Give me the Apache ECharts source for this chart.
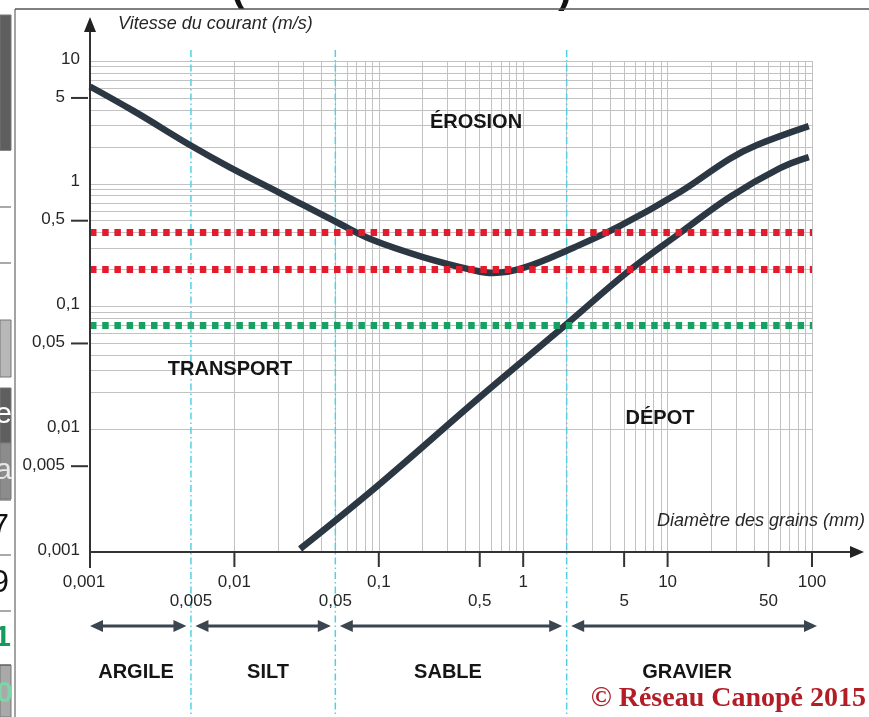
<!DOCTYPE html>
<html>
<head>
<meta charset="utf-8">
<script src="https://cdn.jsdelivr.net/npm/echarts@6/dist/echarts.min.js"></script>
<style>
html,body{margin:0;padding:0;background:#fff;}
#c{width:869px;height:717px;}
</style>
</head>
<body>
<div id="c"></div>
<script>
// ---------- data ----------
const erosionD = [0.001, 0.002, 0.0052, 0.0093, 0.0207, 0.054, 0.091, 0.202, 0.449, 0.618, 1.0, 2.21, 4.68, 12.2, 27, 41.6, 95];
const erosionV = [6.2, 3.92, 1.99, 1.36, 0.84, 0.47, 0.348, 0.253, 0.198, 0.1875, 0.206, 0.30, 0.453, 0.857, 1.6, 2.07, 2.95];
const depotD = [0.0285, 0.102, 0.502, 1.89, 5.49, 12.2, 27, 60, 95];
const depotV = [0.00106, 0.0036, 0.0183, 0.068, 0.198, 0.397, 0.78, 1.34, 1.65];
const redLevels = [0.4, 0.2];
const greenLevels = [0.07];
const boundaries = [0.005, 0.05, 2];
const classNames = ['ARGILE', 'SILT', 'SABLE', 'GRAVIER'];
const classRanges = [[0.001, 0.005], [0.005, 0.05], [0.05, 2], [2, 100]];
const zoneNames = ['ÉROSION', 'TRANSPORT', 'DÉPOT'];
const xDecades = [0.001, 0.01, 0.1, 1, 10, 100];
const xDecadeLabels = ['0,001', '0,01', '0,1', '1', '10', '100'];
const xHalves = [0.005, 0.05, 0.5, 5, 50];
const xHalfLabels = ['0,005', '0,05', '0,5', '5', '50'];
const xTickValues = [0.01, 0.1, 0.5, 1, 5, 10, 50, 100];
const yDecades = [0.001, 0.01, 0.1, 1, 10];
const yDecadeLabels = ['0,001', '0,01', '0,1', '1', '10'];
const yHalves = [0.005, 0.05, 0.5, 5];
const yHalfLabels = ['0,005', '0,05', '0,5', '5'];
const mantissas = [1, 2, 3, 4, 5, 6, 7, 8, 9];
const xAxisName = 'Diamètre des grains (mm)';
const yAxisName = 'Vitesse du courant (m/s)';
const credit = '© Réseau Canopé 2015';

// ---------- layout constants ----------
const zonePos = [[476, 122], [230, 369], [660, 418]];
const classLabelX = [136, 268, 448, 687];
const SANS = '"Liberation Sans", Arial, sans-serif';
const SERIF = '"Liberation Serif", "Times New Roman", serif';
const INK = '#262626';
const CURVE = '#2c3744';

// gridline values
const xGrid = [];
xDecades.slice(0, -1).forEach(d => mantissas.forEach(m => xGrid.push(+(d * m).toPrecision(3))));
xGrid.push(xDecades[xDecades.length - 1]);
const yGrid = [];
yDecades.slice(0, -1).forEach(d => mantissas.forEach(m => yGrid.push(+(d * m).toPrecision(3))));
yGrid.push(yDecades[yDecades.length - 1]);

const chart = echarts.init(document.getElementById('c'), null, {renderer: 'canvas'});

const hidden = {axisLine: {show: false}, axisTick: {show: false}, axisLabel: {show: false}, splitLine: {show: false}};
const option = {
  animation: false,
  backgroundColor: '#ffffff',
  grid: {left: 90, top: 61, right: 57, bottom: 165},
  xAxis: Object.assign({type: 'log', logBase: 10, min: 0.001, max: 100}, hidden),
  yAxis: Object.assign({type: 'log', logBase: 10, min: 0.001, max: 10}, hidden),
  series: [
    {
      type: 'line', name: 'grille', data: [], silent: true, z: 1,
      markLine: {
        silent: true, symbol: 'none', animation: false, z: 1,
        label: {show: false},
        lineStyle: {color: '#c2c2c2', width: 1, type: 'solid'},
        data: xGrid.map(v => ({xAxis: v})).concat(yGrid.map(v => ({yAxis: v})))
      }
    },
    {
      type: 'line', name: 'Érosion', z: 3, symbol: 'none', smooth: 0.4,
      data: erosionD.map((d, i) => [d, erosionV[i]]),
      lineStyle: {color: CURVE, width: 6.5}
    },
    {
      type: 'line', name: 'Dépôt', z: 3, symbol: 'none', smooth: 0.4,
      data: depotD.map((d, i) => [d, depotV[i]]),
      lineStyle: {color: CURVE, width: 6.5}
    },
    {
      type: 'line', name: 'seuils', data: [], silent: true, z: 5,
      markLine: {
        silent: true, symbol: 'none', animation: false, z: 6,
        label: {show: false},
        data: redLevels.map(v => ({yAxis: v, lineStyle: {color: '#e31b2d', width: 7, type: [6.5, 5.7]}}))
          .concat(greenLevels.map(v => ({yAxis: v, lineStyle: {color: '#16a062', width: 7, type: [6.5, 5.7]}})))
      }
    }
  ]
};
chart.setOption(option);

const px = v => chart.convertToPixel({xAxisIndex: 0}, v);
const py = v => chart.convertToPixel({yAxisIndex: 0}, v);
const X0 = px(xDecades[0]);
const Y0 = py(yDecades[0]);

const g = [];
function line(x1, y1, x2, y2, stroke, w, z, dash) {
  g.push({type: 'line', z: z || 6, silent: true, shape: {x1, y1, x2, y2},
    style: {stroke, lineWidth: w, lineDash: dash || null}});
}
function text(str, x, y, font, fill, align, valign, z) {
  g.push({type: 'text', x, y, z: z || 8, silent: true,
    style: {text: str, font, fill, align: align || 'center', verticalAlign: valign || 'middle',
      textAlign: align || 'center', textVerticalAlign: valign || 'middle'}});
}
function tri(points, fill, z) {
  g.push({type: 'polygon', z: z || 6, silent: true, shape: {points}, style: {fill}});
}

// boundaries (cyan dash-dot)
boundaries.forEach(b => {
  const x = px(b);
  line(x, 50, x, 717, '#55d0e2', 1.5, 2, [7, 3, 1.5, 3]);
});

// axes with arrows
line(X0, 568, X0, 28, '#333', 2, 6);
tri([[X0, 17], [X0 - 6, 32], [X0 + 6, 32]], '#222');
line(X0, Y0, 852, Y0, '#333', 2, 6);
tri([[864, Y0], [850, Y0 - 6], [850, Y0 + 6]], '#222');

// x ticks + labels
xTickValues.forEach(v => line(px(v), Y0, px(v), Y0 + 15, '#333', 2, 6));
xDecades.forEach((v, i) => text(xDecadeLabels[i], px(v) - (i === 0 ? 6 : 0), 582, '17px ' + SANS, INK));
xHalves.forEach((v, i) => text(xHalfLabels[i], px(v), 601, '17px ' + SANS, INK));

// y ticks + labels
yHalves.forEach((v, i) => {
  line(71, py(v), 88, py(v), '#333', 2, 6);
  text(yHalfLabels[i], 65, py(v) - 1, '17px ' + SANS, INK, 'right');
});
yDecades.forEach((v, i) => text(yDecadeLabels[i], 80, py(v) - 2, '17px ' + SANS, INK, 'right'));

// axis names
text(yAxisName, 118, 24, 'italic 18px ' + SANS, INK, 'left');
text(xAxisName, 657, 521, 'italic 18px ' + SANS, INK, 'left');

// zone labels
zoneNames.forEach((n, i) => text(n, zonePos[i][0], zonePos[i][1], 'bold 20px ' + SANS, '#151515'));

// class double arrows
const AY = 626;
classRanges.forEach((r, i) => {
  const a = i === 0 ? px(r[0]) : px(r[0]) + 4.5;
  const b = i === classRanges.length - 1 ? px(r[1]) + 5 : px(r[1]) - 4.5;
  line(a + 8, AY, b - 8, AY, '#3a4550', 3, 6);
  tri([[a, AY], [a + 13, AY - 6], [a + 13, AY + 6]], '#3a4550');
  tri([[b, AY], [b - 13, AY - 6], [b - 13, AY + 6]], '#3a4550');
  text(classNames[i], classLabelX[i], 672, 'bold 20px ' + SANS, '#151515');
});

// credit
text(credit, 866, 699, 'bold 28px ' + SERIF, '#b31d26', 'right');

// frame of the picture
line(15, 9, 869, 9, '#555', 1.5, 9);
line(15, 9, 15, 717, '#666', 1.2, 9);

// fragments of the surrounding page (left strip, top)
const strip = [
  [15, 135, '#5e5e5e'], [320, 57, '#b8b8b8'], [388, 55, '#5f5f5f'], [443, 56, '#8c8c8c'], [665, 52, '#a9a9a9']
];
strip.forEach(s => g.push({type: 'rect', z: 7, silent: true, shape: {x: 0, y: s[0], width: 11, height: s[1]}, style: {fill: s[2], stroke: '#777', lineWidth: 1}}));
[150, 207, 263, 500, 555, 611, 665].forEach(y => line(0, y, 11, y, '#555', 1, 7));
text('e', 12, 415, '30px ' + SANS, '#ffffff', 'right');
text('a', 12, 471, '30px ' + SANS, '#e8e8e8', 'right');
text('7', 9, 527, '32px ' + SANS, '#111', 'right');
text('9', 9, 583, '32px ' + SANS, '#111', 'right');
text('1', 11, 638, 'bold 30px ' + SANS, '#149a5c', 'right');
text('0', 13, 694, 'bold 30px ' + SANS, '#7fd3a8', 'right');
text('(', 238, -10, 'bold 40px ' + SANS, '#111');
text(')', 565, -8, 'bold 40px ' + SANS, '#111');

chart.setOption({graphic: {elements: g}});
</script>
</body>
</html>
